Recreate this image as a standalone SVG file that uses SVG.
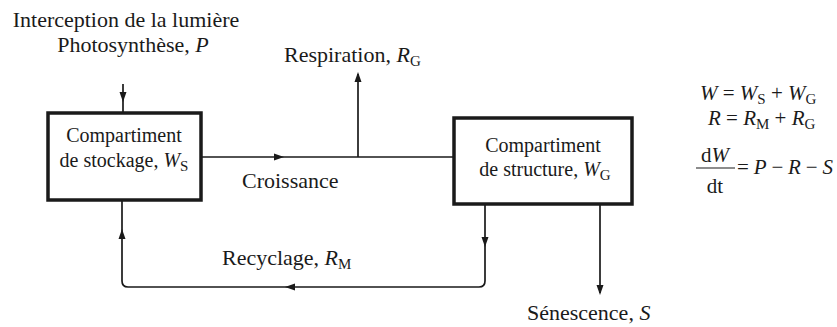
<svg xmlns="http://www.w3.org/2000/svg" xmlns:xlink="http://www.w3.org/1999/xlink" width="837" height="327" viewBox="0 0 837 327">
<style>
text{font-family:'Liberation Serif','DejaVu Serif',serif;fill:#1a1a1a}
.lbl{font-size:22px}
.box{font-size:20px}
.eq{font-size:21px}
.i{font-style:italic}
.sub{font-size:15px}
.node rect{fill:#fff;stroke:#1a1a1a;stroke-width:3.5}
.conn path{fill:none;stroke:#1a1a1a;stroke-width:1.7}
.ah{fill:#1a1a1a}
</style>
<defs>
<path id="ah" d="M0,0 L-10,-3.5 L-10,3.5 Z"/>
</defs>
<rect width="837" height="327" fill="#fff"/>
<g id="connectors" class="conn">
<path d="M123,84 L123,113"/>
<path d="M201,157 L455,157"/>
<path d="M358,157 L358,74"/>
<path d="M485,204 L485,281 Q485,287 479,287 L128,287 Q122,287 122,281 L122,200"/>
<path d="M600,204 L600,293"/>
<use xlink:href="#ah" class="ah" transform="translate(123,102) rotate(90)"/>
<use xlink:href="#ah" class="ah" transform="translate(284,157)"/>
<use xlink:href="#ah" class="ah" transform="translate(358,72) rotate(-90)"/>
<use xlink:href="#ah" class="ah" transform="translate(485,247) rotate(90)"/>
<use xlink:href="#ah" class="ah" transform="translate(285,287) rotate(180)"/>
<use xlink:href="#ah" class="ah" transform="translate(122,229) rotate(-90)"/>
<use xlink:href="#ah" class="ah" transform="translate(600,295) rotate(90)"/>
</g>
<g id="stockage" class="node">
<rect x="48" y="113" width="153" height="87"/>
<text class="box" x="124" y="142" text-anchor="middle">Compartiment</text>
<text class="box" x="124" y="167" text-anchor="middle">de stockage, <tspan class="i">W</tspan><tspan class="sub" dy="4">S</tspan></text>
</g>
<g id="structure" class="node">
<rect x="454" y="118" width="178" height="86"/>
<text class="box" x="543" y="152" text-anchor="middle">Compartiment</text>
<text class="box" x="545" y="176" text-anchor="middle">de structure, <tspan class="i">W</tspan><tspan class="sub" dy="4">G</tspan></text>
</g>
<g id="labels">
<text class="lbl" x="126" y="27" text-anchor="middle">Interception de la lumière</text>
<text class="lbl" x="133" y="52" text-anchor="middle">Photosynthèse, <tspan class="i">P</tspan></text>
<text class="lbl" x="284" y="62">Respiration, <tspan class="i">R</tspan><tspan class="sub" dy="4">G</tspan></text>
<text class="lbl" x="242" y="188">Croissance</text>
<text class="lbl" x="222" y="265">Recyclage, <tspan class="i">R</tspan><tspan class="sub" dy="4">M</tspan></text>
<text class="lbl" x="527" y="320">Sénescence, <tspan class="i">S</tspan></text>
</g>
<g id="equations">
<text class="eq" x="700" y="100"><tspan class="i">W</tspan> = <tspan class="i">W</tspan><tspan class="sub" dy="4">S</tspan><tspan dy="-4"> + </tspan><tspan class="i">W</tspan><tspan class="sub" dy="4">G</tspan></text>
<text class="eq" x="708" y="125"><tspan class="i">R</tspan> = <tspan class="i">R</tspan><tspan class="sub" dy="4">M</tspan><tspan dy="-4"> + </tspan><tspan class="i">R</tspan><tspan class="sub" dy="4">G</tspan></text>
<text class="eq" x="715" y="162" text-anchor="middle">d<tspan class="i">W</tspan></text>
<path d="M696,168 L735,168" stroke="#1a1a1a" stroke-width="1.2"/>
<text class="eq" x="715" y="193" text-anchor="middle">dt</text>
<text class="eq" x="737" y="174" textLength="96" lengthAdjust="spacing">= <tspan class="i">P</tspan> − <tspan class="i">R</tspan> − <tspan class="i">S</tspan></text>
</g>
</svg>
